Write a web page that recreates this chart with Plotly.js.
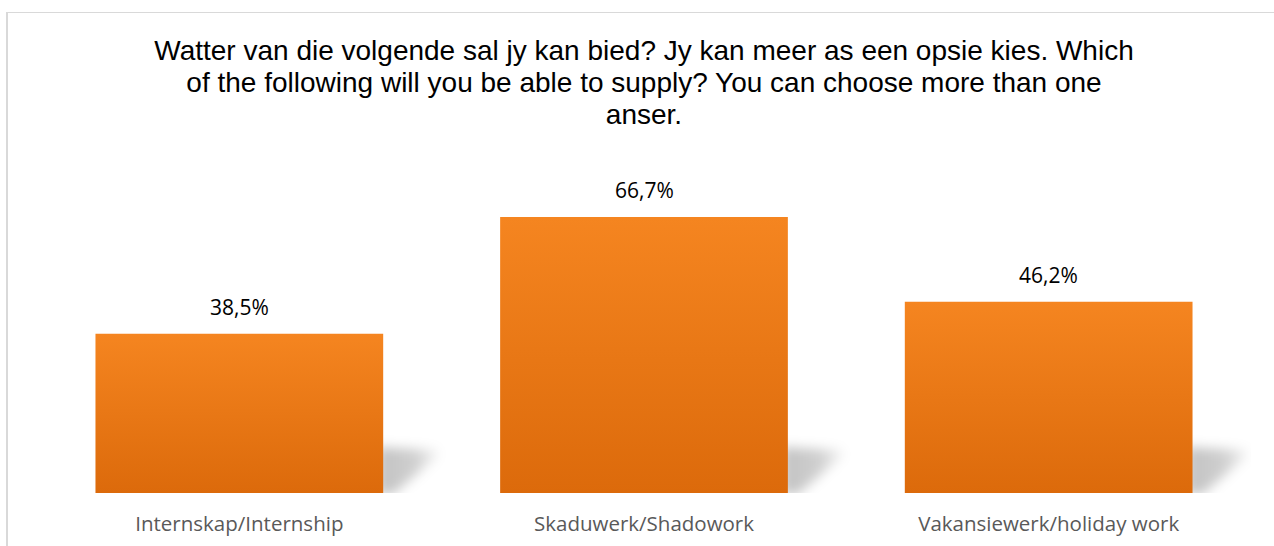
<!DOCTYPE html>
<html>
<head>
<meta charset="utf-8">
<script src="https://cdn.plot.ly/plotly-3.0.1.min.js"></script>
<style>
  html, body { margin: 0; padding: 0; background: #ffffff; }
  #wrap { position: relative; width: 1274px; height: 546px; overflow: hidden; }
  #chart { position: absolute; left: 0; top: 0; width: 1274px; height: 546px; }
  #frame { position: absolute; left: 6px; top: 12px; width: 1300px; height: 600px;
           border-left: 2px solid #d9d9d9; border-top: 1px solid #d9d9d9; pointer-events: none; }
</style>
</head>
<body>
<div id="wrap">
  <div id="chart"></div>
  <div id="frame"></div>
</div>
<script>
const categories = ['Internskap/Internship', 'Skaduwerk/Shadowork', 'Vakansiewerk/holiday work'];
const values = [38.5, 66.7, 46.2];
const titleText = 'Watter van die volgende sal jy kan bied? Jy kan meer as een opsie kies. Which<br>of the following will you be able to supply? You can choose more than one<br>anser.';

function fmt(v) { return v.toFixed(1).replace('.', ',') + '%'; }

const trace = {
  type: 'bar',
  x: categories,
  y: values,
  marker: { color: '#E97817', line: { width: 0 } },
  hoverinfo: 'skip'
};

const annotations = categories.map((c, i) => ({
  x: c, y: values[i], xref: 'x', yref: 'y',
  text: fmt(values[i]), showarrow: false,
  yanchor: 'bottom', yshift: 11,
  font: { family: 'Open Sans', size: 21, color: '#000000' }
}));

const layout = {
  width: 1274, height: 546,
  margin: { l: 37, r: 22.5, t: 162, b: 53 },
  paper_bgcolor: 'rgba(0,0,0,0)',
  plot_bgcolor: 'rgba(0,0,0,0)',
  bargap: 0.289,
  showlegend: false,
  separators: ',.',
  title: {
    text: titleText,
    xref: 'paper', x: 0.5, xanchor: 'center',
    yref: 'container', y: 1 - 60 / 546, yanchor: 'top',
    font: { family: 'Liberation Sans, Arial, sans-serif', size: 28, color: '#000000' }
  },
  xaxis: {
    type: 'category',
    showgrid: false, zeroline: false, showline: false,
    ticks: '', ticklabelstandoff: 16,
    tickfont: { family: 'Open Sans', size: 20.5, color: '#595959' },
    fixedrange: true
  },
  yaxis: {
    range: [0, 80],
    showgrid: false, zeroline: false, showline: false,
    showticklabels: false, ticks: '',
    fixedrange: true
  },
  annotations: annotations
};

Plotly.newPlot('chart', [trace], layout, { displayModeBar: false, staticPlot: true }).then(gd => {
  const svg = gd.querySelector('svg.main-svg');
  const NS = 'http://www.w3.org/2000/svg';

  // tighten the title's line spacing to match the reference
  gd.querySelectorAll('.gtitle tspan.line').forEach(t => {
    const dy = t.getAttribute('dy');
    if (dy && dy.endsWith('em')) {
      const v = parseFloat(dy);
      t.setAttribute('dy', (v * 1.14 / 1.3) + 'em');
    }
  });

  let defs = svg.querySelector('defs');
  if (!defs) { defs = document.createElementNS(NS, 'defs'); svg.insertBefore(defs, svg.firstChild); }

  const grad = document.createElementNS(NS, 'linearGradient');
  grad.setAttribute('id', 'barGrad');
  grad.setAttribute('x1', '0'); grad.setAttribute('y1', '0');
  grad.setAttribute('x2', '0'); grad.setAttribute('y2', '1');
  [['0', '#F58520'], ['1', '#DC6A0B']].forEach(([o, c]) => {
    const s = document.createElementNS(NS, 'stop');
    s.setAttribute('offset', o); s.setAttribute('stop-color', c);
    grad.appendChild(s);
  });
  defs.appendChild(grad);

  const sgrad = document.createElementNS(NS, 'linearGradient');
  sgrad.setAttribute('id', 'shadowGrad');
  sgrad.setAttribute('x1', '0'); sgrad.setAttribute('y1', '0');
  sgrad.setAttribute('x2', '1'); sgrad.setAttribute('y2', '0');
  [['0', 'rgba(0,0,0,0.24)'], ['0.6', 'rgba(0,0,0,0.19)'], ['1', 'rgba(0,0,0,0.03)']].forEach(([o, c]) => {
    const s = document.createElementNS(NS, 'stop');
    s.setAttribute('offset', o); s.setAttribute('stop-color', c);
    sgrad.appendChild(s);
  });
  defs.appendChild(sgrad);

  const filt = document.createElementNS(NS, 'filter');
  filt.setAttribute('id', 'shadowBlur');
  filt.setAttribute('x', '-50%'); filt.setAttribute('y', '-50%');
  filt.setAttribute('width', '200%'); filt.setAttribute('height', '200%');
  const blur = document.createElementNS(NS, 'feGaussianBlur');
  blur.setAttribute('stdDeviation', '6');
  filt.appendChild(blur);
  defs.appendChild(filt);

  gd.querySelectorAll('.barlayer .point path').forEach(p => {
    const b = p.getBBox();
    const R = b.x + b.width, B = b.y + b.height;
    const sh = document.createElementNS(NS, 'path');
    sh.setAttribute('d',
      'M' + (R - 6) + ',' + (B - 46) +
      ' L' + (R + 54) + ',' + (B - 43) +
      ' L' + (R + 56) + ',' + (B - 38) +
      ' L' + (R + 10) + ',' + (B + 1) +
      ' L' + (R - 6) + ',' + (B + 1) + ' Z');
    sh.setAttribute('fill', 'url(#shadowGrad)');
    sh.setAttribute('filter', 'url(#shadowBlur)');
    p.parentNode.insertBefore(sh, p);
    p.style.fill = 'url(#barGrad)';
  });
});
</script>
</body>
</html>
